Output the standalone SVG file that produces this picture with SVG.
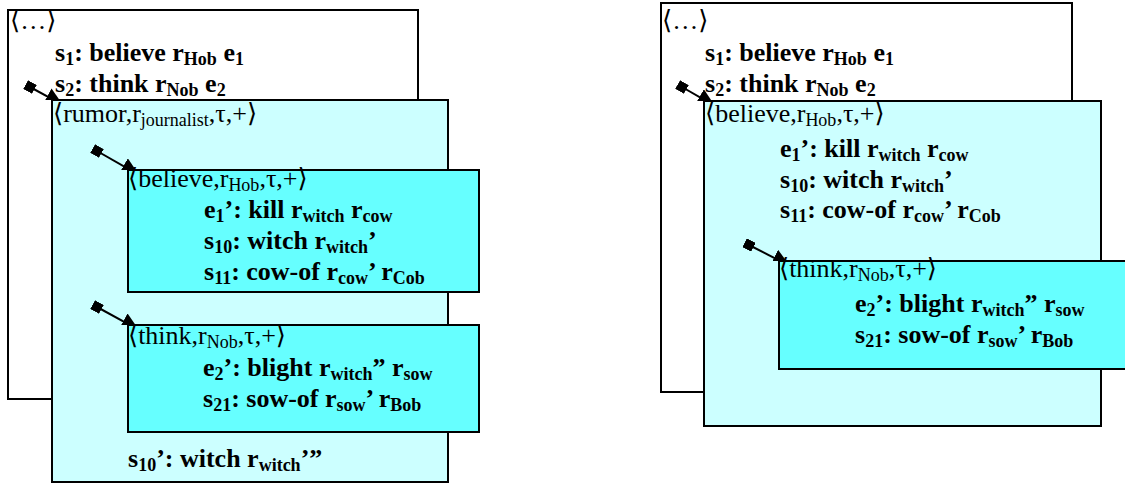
<svg xmlns="http://www.w3.org/2000/svg" width="1125" height="484" viewBox="0 0 1125 484">
<style>
.t{font-family:"Liberation Serif","DejaVu Serif",serif;font-size:26px;fill:#000}
.b{font-weight:bold}
.s{font-size:18px}
.w{fill:#fff;stroke:#000;stroke-width:2}
.c1{fill:#ccffff;stroke:#000;stroke-width:2}
.c2{fill:#66ffff;stroke:#000;stroke-width:2}
.con{stroke:#000;stroke-width:2;fill:none;marker-start:url(#sq);marker-end:url(#ah)}
</style>
<defs>
<marker id="ah" viewBox="0 0 18 18" markerWidth="18" markerHeight="18" refX="18" refY="9" orient="auto" markerUnits="userSpaceOnUse"><path d="M0,0 L18,9 L0,18 z" fill="#000"/></marker>
<marker id="sq" viewBox="0 0 10 10" markerWidth="10" markerHeight="10" refX="5" refY="5" orient="auto" markerUnits="userSpaceOnUse"><path d="M0,0 H10 V10 H0 z" fill="#000"/></marker>
<clipPath id="k1"><rect x="0" y="0" width="1125" height="100"/></clipPath>
<clipPath id="k2"><rect x="0" y="0" width="1125" height="170"/></clipPath>
<clipPath id="k3"><rect x="0" y="0" width="1125" height="325"/></clipPath>
<clipPath id="k4"><rect x="0" y="0" width="1125" height="101"/></clipPath>
<clipPath id="k5"><rect x="0" y="0" width="1125" height="261"/></clipPath>
</defs>

<g id="left-outer">
<rect class="w" x="8" y="10" width="410" height="389"/>
<text class="t" x="10" y="29">⟨…⟩</text>
<text class="t b" x="55" y="61">s<tspan class="s" dy="4">1</tspan><tspan dy="-4">: believe r</tspan><tspan class="s" dy="4">Hob</tspan><tspan dy="-4"> e</tspan><tspan class="s" dy="4">1</tspan></text>
<text class="t b" x="55" y="92">s<tspan class="s" dy="4">2</tspan><tspan dy="-4">: think r</tspan><tspan class="s" dy="4">Nob</tspan><tspan dy="-4"> e</tspan><tspan class="s" dy="4">2</tspan></text>
</g>

<g id="left-rumor">
<rect class="c1" x="52" y="100" width="396" height="382"/>
<text class="t" x="53" y="122">⟨rumor,r<tspan class="s" dy="4">journalist</tspan><tspan dy="-4">,τ,+⟩</tspan></text>
<text class="t b" x="128" y="467">s<tspan class="s" dy="4">10</tspan><tspan dy="-4">’: witch r</tspan><tspan class="s" dy="4">witch</tspan><tspan dy="-4">’”</tspan></text>
</g>

<g id="left-believe">
<rect class="c2" x="128" y="170" width="351" height="122"/>
<text class="t" x="128" y="187">⟨believe,r<tspan class="s" dy="4">Hob</tspan><tspan dy="-4">,τ,+⟩</tspan></text>
<text class="t b" x="204" y="218">e<tspan class="s" dy="4">1</tspan><tspan dy="-4">’: kill r</tspan><tspan class="s" dy="4">witch</tspan><tspan dy="-4"> r</tspan><tspan class="s" dy="4">cow</tspan></text>
<text class="t b" x="204" y="249">s<tspan class="s" dy="4">10</tspan><tspan dy="-4">: witch r</tspan><tspan class="s" dy="4">witch</tspan><tspan dy="-4">’</tspan></text>
<text class="t b" x="204" y="280">s<tspan class="s" dy="4">11</tspan><tspan dy="-4">: cow-of r</tspan><tspan class="s" dy="4">cow</tspan><tspan dy="-4">’ r</tspan><tspan class="s" dy="4">Cob</tspan></text>
</g>

<g id="left-think">
<rect class="c2" x="128" y="325" width="351" height="107"/>
<text class="t" x="128" y="344">⟨think,r<tspan class="s" dy="4">Nob</tspan><tspan dy="-4">,τ,+⟩</tspan></text>
<text class="t b" x="203" y="376">e<tspan class="s" dy="4">2</tspan><tspan dy="-4">’: blight r</tspan><tspan class="s" dy="4">witch</tspan><tspan dy="-4">” r</tspan><tspan class="s" dy="4">sow</tspan></text>
<text class="t b" x="203" y="407">s<tspan class="s" dy="4">21</tspan><tspan dy="-4">: sow-of r</tspan><tspan class="s" dy="4">sow</tspan><tspan dy="-4">’ r</tspan><tspan class="s" dy="4">Bob</tspan></text>
</g>

<g id="right-outer">
<rect class="w" x="661" y="3" width="411" height="389"/>
<text class="t" x="662" y="29">⟨…⟩</text>
<text class="t b" x="705" y="61">s<tspan class="s" dy="4">1</tspan><tspan dy="-4">: believe r</tspan><tspan class="s" dy="4">Hob</tspan><tspan dy="-4"> e</tspan><tspan class="s" dy="4">1</tspan></text>
<text class="t b" x="705" y="92">s<tspan class="s" dy="4">2</tspan><tspan dy="-4">: think r</tspan><tspan class="s" dy="4">Nob</tspan><tspan dy="-4"> e</tspan><tspan class="s" dy="4">2</tspan></text>
</g>

<g id="right-believe">
<rect class="c1" x="704" y="101" width="397" height="325"/>
<text class="t" x="705" y="122">⟨believe,r<tspan class="s" dy="4">Hob</tspan><tspan dy="-4">,τ,+⟩</tspan></text>
<text class="t b" x="780" y="157">e<tspan class="s" dy="4">1</tspan><tspan dy="-4">’: kill r</tspan><tspan class="s" dy="4">witch</tspan><tspan dy="-4"> r</tspan><tspan class="s" dy="4">cow</tspan></text>
<text class="t b" x="780" y="188">s<tspan class="s" dy="4">10</tspan><tspan dy="-4">: witch r</tspan><tspan class="s" dy="4">witch</tspan><tspan dy="-4">’</tspan></text>
<text class="t b" x="780" y="218">s<tspan class="s" dy="4">11</tspan><tspan dy="-4">: cow-of r</tspan><tspan class="s" dy="4">cow</tspan><tspan dy="-4">’ r</tspan><tspan class="s" dy="4">Cob</tspan></text>
</g>

<g id="right-think">
<rect class="c2" x="779" y="261" width="360" height="108"/>
<text class="t" x="779" y="277">⟨think,r<tspan class="s" dy="4">Nob</tspan><tspan dy="-4">,τ,+⟩</tspan></text>
<text class="t b" x="855" y="312">e<tspan class="s" dy="4">2</tspan><tspan dy="-4">’: blight r</tspan><tspan class="s" dy="4">witch</tspan><tspan dy="-4">” r</tspan><tspan class="s" dy="4">sow</tspan></text>
<text class="t b" x="855" y="343">s<tspan class="s" dy="4">21</tspan><tspan dy="-4">: sow-of r</tspan><tspan class="s" dy="4">sow</tspan><tspan dy="-4">’ r</tspan><tspan class="s" dy="4">Bob</tspan></text>
</g>

<g id="connectors">
<path class="con" clip-path="url(#k1)" d="M30,87 L63,105"/>
<path class="con" clip-path="url(#k2)" d="M97,151 L139,175"/>
<path class="con" clip-path="url(#k3)" d="M97,307 L139,330"/>
<path class="con" clip-path="url(#k4)" d="M682,87 L715,106"/>
<path class="con" clip-path="url(#k5)" d="M749,245 L790,266"/>
</g>
</svg>
